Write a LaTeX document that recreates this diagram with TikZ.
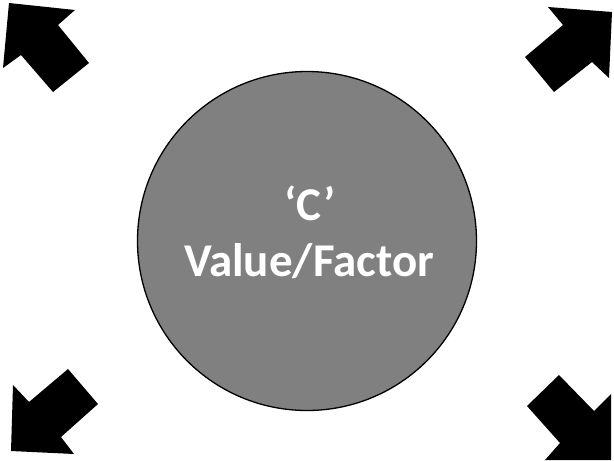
\documentclass[tikz,border=0pt]{standalone}
\usepackage{fontspec}
\setmainfont{Carlito}
\begin{document}
\begin{tikzpicture}[x=1pt,y=-1pt,
  blockarrow/.style={fill=black,draw=none},
  lbl/.style={text=white,font=\bfseries\fontsize{47}{47}\selectfont,anchor=base,inner sep=0pt}]
\useasboundingbox (0,0) rectangle (614,461);
\node[circle,draw=black,line width=1.3pt,fill={rgb,255:red,128;green,128;blue,128},minimum size=339pt,inner sep=0pt] (c) at (307,241) {};
\node[lbl] (t1) at (310,220) {‘C’};
\node[lbl] (t2) at (309,276) {Value/Factor};
% top-left
\fill[blockarrow] (9,3) -- (75,10) -- (58,25) -- (89,63) -- (53,92) -- (21,55) -- (3,68) -- cycle;
% top-right
\fill[blockarrow] (612,12) -- (548,7) -- (563,25) -- (525,57) -- (554,92) -- (592,62) -- (609,78) -- cycle;
% bottom-left
\fill[blockarrow] (11,451) -- (13,385) -- (29,402) -- (68,369) -- (98,404) -- (61,437) -- (74,454) -- cycle;
% bottom-right
\fill[blockarrow] (611,460) -- (545,460) -- (560,443) -- (527,406) -- (559,375) -- (594,411) -- (611,394) -- cycle;
\end{tikzpicture}
\end{document}
